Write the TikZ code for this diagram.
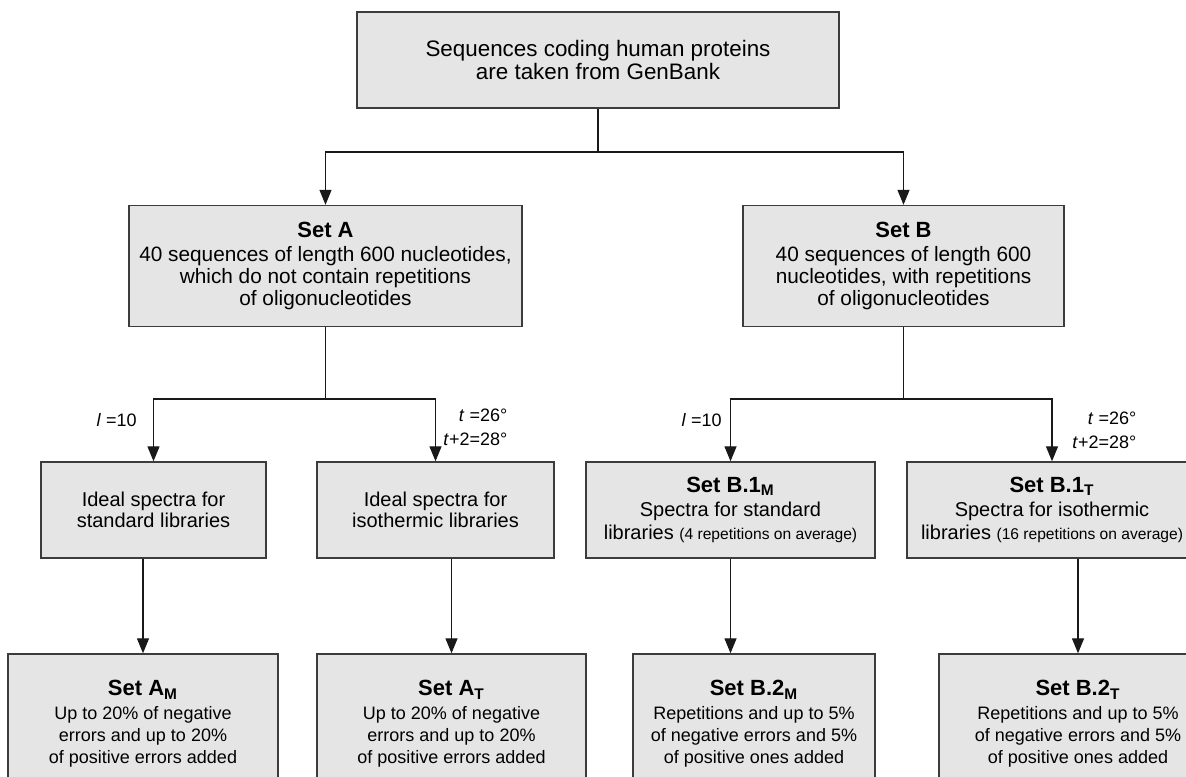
\documentclass[tikz,border=0pt]{standalone}
\usepackage{fontspec}
\setmainfont{Liberation Sans}
\usetikzlibrary{arrows.meta}

\definecolor{boxfill}{HTML}{E5E5E5}
\definecolor{boxline}{HTML}{3C3C3C}

\newcommand{\settitle}[1]{{\bfseries\fontsize{11}{12}\selectfont Set #1}}

\begin{document}
\begin{tikzpicture}[
  x=0.5pt, y=-0.5pt,
  stage/.style={draw=boxline, fill=boxfill, line width=0.7pt, align=center,
    inner sep=2pt, font=\fontsize{10}{10.8}\selectfont},
  link/.style={draw=black!90, line width=0.65pt},
  flow/.style={link, -{Triangle[length=7.5pt,width=6pt]}},
  param/.style={font=\fontsize{9}{12}\selectfont, inner sep=0pt}
]
\useasboundingbox (0,0) rectangle (1186,776);

% source
\node[stage, minimum width=241pt, minimum height=48pt,
  font=\fontsize{11.2}{11.7}\selectfont] (source) at (598,60)
  {Sequences coding human proteins\\are taken from GenBank};

% sets A and B
\node[stage, minimum width=196.5pt, minimum height=60.5pt,
  font=\fontsize{10.4}{11.1}\selectfont] (setA) at (325.5,266)
  {\settitle{A}\\[1pt]40 sequences of length 600 nucleotides,\\which do not contain repetitions\\of oligonucleotides};
\node[stage, minimum width=160.5pt, minimum height=60.5pt,
  font=\fontsize{10.4}{11.1}\selectfont] (setB) at (903.5,266)
  {\settitle{B}\\[1pt]40 sequences of length 600\\nucleotides, with repetitions\\of oligonucleotides};

% spectra
\node[stage, minimum width=112.5pt, minimum height=48pt] (idealM) at (153.5,510)
  {Ideal spectra for\\standard libraries};
\node[stage, minimum width=118.5pt, minimum height=48pt] (idealT) at (435.5,510)
  {Ideal spectra for\\isothermic libraries};
\node[stage, minimum width=144.5pt, minimum height=48pt,
  font=\fontsize{10}{11.8}\selectfont] (setBoneM) at (730.5,510)
  {\settitle{B.1\textsubscript{M}}\\Spectra for standard\\libraries {\fontsize{7.8}{9}\selectfont(4 repetitions on average)}};
\node[stage, minimum width=145pt, minimum height=48pt,
  font=\fontsize{10}{11.8}\selectfont] (setBoneT) at (1052,510)
  {\settitle{B.1\textsubscript{T}}\\Spectra for isothermic\\libraries {\fontsize{7.8}{9}\selectfont(16 repetitions on average)}};

% spectra with errors
\node[stage, minimum width=135pt, minimum height=70pt,
  font=\fontsize{9}{11}\selectfont] (setAM) at (143,724)
  {\settitle{A\textsubscript{M}}\\[1pt]Up to 20\% of negative\\errors and up to 20\%\\of positive errors added};
\node[stage, minimum width=134.5pt, minimum height=70pt,
  font=\fontsize{9}{11}\selectfont] (setAT) at (451.5,724)
  {\settitle{A\textsubscript{T}}\\[1pt]Up to 20\% of negative\\errors and up to 20\%\\of positive errors added};
\node[stage, minimum width=121pt, minimum height=70pt,
  font=\fontsize{9}{11}\selectfont] (setBtwoM) at (754,724)
  {\settitle{B.2\textsubscript{M}}\\[1pt]Repetitions and up to 5\%\\of negative errors and 5\%\\of positive ones added};
\node[stage, minimum width=139pt, minimum height=70pt,
  font=\fontsize{9}{11}\selectfont] (setBtwoT) at (1078,724)
  {\settitle{B.2\textsubscript{T}}\\[1pt]Repetitions and up to 5\%\\of negative errors and 5\%\\of positive ones added};

% branching points
\coordinate (splitTop) at (598,152);
\coordinate (splitA) at (325.5,399);
\coordinate (splitB) at (903.5,399);

\draw[link] (source) -- (splitTop);
\draw[flow] (splitTop) -| (setA);
\draw[flow] (splitTop) -| (setB);

\draw[link] (setA) -- (splitA);
\draw[flow] (splitA) -| (idealM);
\draw[flow] (splitA) -| (idealT);
\draw[link] (setB) -- (splitB);
\draw[flow] (splitB) -| (setBoneM);
\draw[flow] (splitB) -| (setBoneT);

\draw[flow] (idealM.south -| setAM.north) -- (setAM);
\draw[flow] (idealT.south -| setAT.north) -- (setAT);
\draw[flow] (setBoneM) -- (setBoneM.south |- setBtwoM.north);
\draw[flow] (setBoneT.south -| setBtwoT.north) -- (setBtwoT);

% parameters
\node[param, anchor=east] (lenA) at (137,420) {\textit{l} =10};
\node[param, anchor=west, align=right] (tempA) at (443,427)
  {\textit{t} =26°\\\textit{t}+2=28°};
\node[param, anchor=east] (lenB) at (722,420) {\textit{l} =10};
\node[param, anchor=west, align=right] (tempB) at (1072,430)
  {\textit{t} =26°\\\textit{t}+2=28°};

\end{tikzpicture}
\end{document}
